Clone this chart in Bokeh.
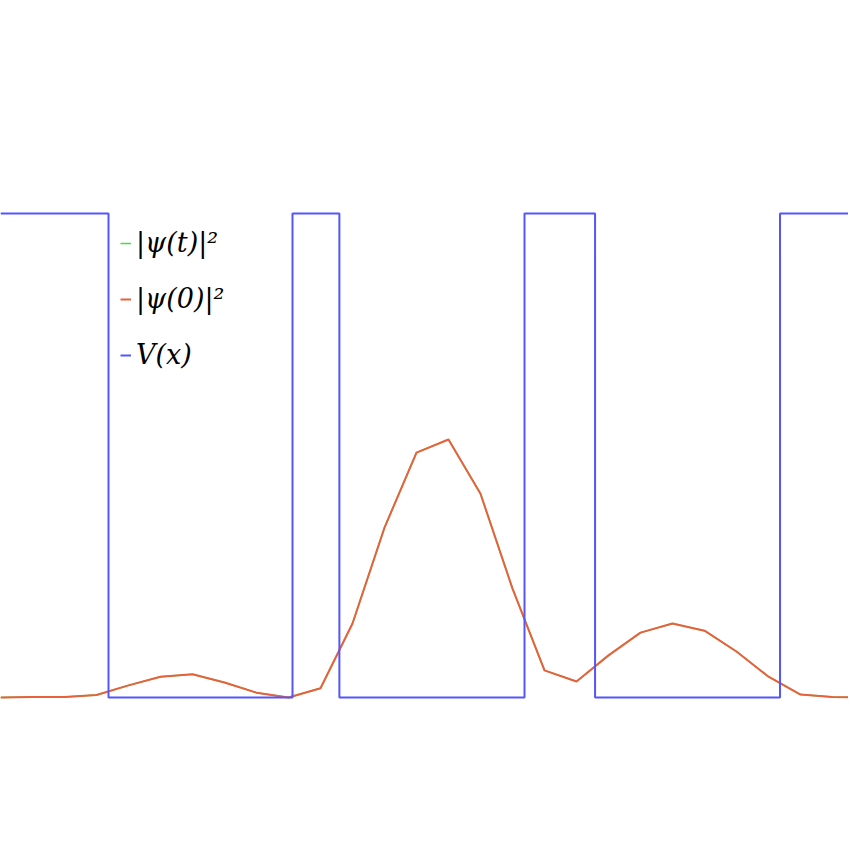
from bokeh.plotting import figure
from bokeh.models import Range1d, Legend, LegendItem
from bokeh.embed import file_html
from bokeh.resources import INLINE

# grid positions (sample index) and probability densities
x_grid = list(range(28))
psi0_sq = [0.0, 0.001, 0.001, 0.005, 0.025, 0.043, 0.048, 0.031, 0.010, 0.0,
           0.019, 0.153, 0.351, 0.506, 0.533, 0.421, 0.225, 0.056, 0.033, 0.087,
           0.134, 0.153, 0.138, 0.095, 0.043, 0.006, 0.001, 0.0]
psit_sq = list(psi0_sq)  # at t = 0 identical to initial state

# potential barriers (step potential)
V_x = [0, 3.375, 3.375, 9.125, 9.125, 10.59, 10.59, 16.375, 16.375, 18.58, 18.58, 24.36, 24.36, 27]
V_y = [1, 1, 0, 0, 1, 1, 0, 0, 1, 1, 0, 0, 1, 1]

labels = ["|ψ(t)|²", "|ψ(0)|²", "V(x)"]
colors = ["#44dd44", "#e8603c", "#5555ff"]

W = 848
H = 848
p = figure(width=W, height=H, output_backend="svg", toolbar_location=None,
           x_range=Range1d(0, 26.5), y_range=Range1d(-151 / 484, 697 / 484),
           min_border=0, min_border_left=0, min_border_right=0,
           min_border_top=0, min_border_bottom=0)
p.axis.visible = False
p.grid.visible = False
p.outline_line_color = None
p.background_fill_color = "white"
p.border_fill_color = "white"

r_t = p.line(x_grid, psit_sq, line_color=colors[0], line_width=1.5)
r_0 = p.line(x_grid, psi0_sq, line_color=colors[1], line_width=2)
r_v = p.line(V_x, V_y, line_color=colors[2], line_width=2)

legend = Legend(items=[LegendItem(label=labels[0], renderers=[r_t]),
                       LegendItem(label=labels[1], renderers=[r_0]),
                       LegendItem(label=labels[2], renderers=[r_v])],
                location=(120, 478), padding=0, margin=0, spacing=25,
                glyph_width=11, glyph_height=22, label_height=22,
                label_standoff=5,
                label_text_font="DejaVu Serif", label_text_font_style="italic",
                label_text_font_size="27px", label_text_color="black",
                border_line_alpha=0, background_fill_alpha=0)
p.add_layout(legend, "center")

open("out.html", "w").write(file_html(p, INLINE))
